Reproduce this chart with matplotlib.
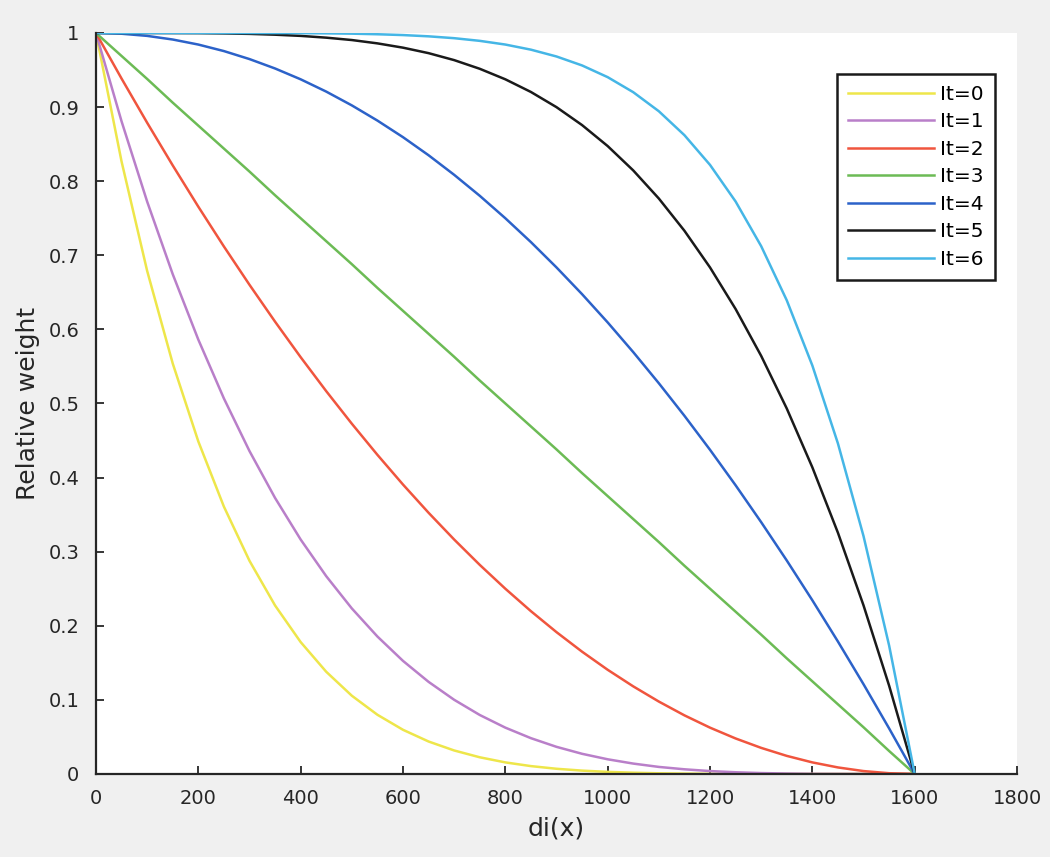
import numpy as np
import matplotlib
matplotlib.use('Agg')
from matplotlib import pyplot as plt

# distance values (x axis), one reading every 50 units
di = list(range(0, 1601, 50))

# relative weight readings for each iteration
it0 = [1, .8266, .6790, .5540, .4488, .3608, .2877, .2274, .1780, .1379, .1056, .0799, .0596,
       .0438, .0317, .0225, .0156, .0106, .0070, .0045, .0028, .0017, .0009, .0005, .0002,
       .0001, 0, 0, 0, 0, 0, 0, 0]
it1 = [1, .8808, .7725, .6745, .5862, .5068, .4358, .3725, .3164, .2669, .2234, .1855, .1526,
       .1243, .1001, .0796, .0625, .0483, .0366, .0272, .0198, .0140, .0095, .0063, .0039,
       .0023, .0012, .0006, .0002, .0001, 0, 0, 0]
it2 = [1, .9385, .8789, .8213, .7656, .7119, .6602, .6104, .5625, .5166, .4727, .4307, .3906,
       .3525, .3164, .2822, .25, .2197, .1914, .1650, .1406, .1182, .0977, .0791, .0625,
       .0479, .0352, .0244, .0156, .0088, .0039, .0010, 0]
it3 = [1, .969, .938, .906, .875, .844, .813, .781, .750, .719, .688, .656, .625, .594, .563,
       .531, .500, .469, .438, .406, .375, .344, .313, .281, .250, .219, .188, .156, .125,
       .094, .063, .031, 0]
it4 = [1, .9990, .9961, .9912, .9844, .9756, .9648, .9521, .9375, .9209, .9023, .8818, .8594,
       .8350, .8086, .7803, .75, .7178, .6836, .6475, .6094, .5693, .5273, .4834, .4375,
       .3896, .3398, .2881, .2344, .1787, .1211, .0615, 0]
it5 = [1, 1, 1, .9999, .9998, .9994, .9988, .9977, .9961, .9937, .9905, .9860, .9802, .9728,
       .9634, .9517, .9375, .9204, .8999, .8757, .8474, .8145, .7766, .7331, .6836, .6275,
       .5642, .4932, .4138, .3255, .2275, .1192, 0]
it6 = [1, 1, 1, 1, 1, 1, 1, .9999, .9998, .9995, .9991, .9983, .9972, .9955, .9930, .9894,
       .9844, .9775, .9683, .9562, .9404, .9201, .8944, .8621, .8220, .7726, .7123, .6392,
       .5512, .4460, .3210, .1734, 0]

series = [it0, it1, it2, it3, it4, it5, it6]
labels = ['It=0', 'It=1', 'It=2', 'It=3', 'It=4', 'It=5', 'It=6']
colors = ['#eee64a', '#b97fc9', '#f0553e', '#6cbb55', '#2c62c9', '#1a1a1a', '#45b6e6']

xticks = [0, 200, 400, 600, 800, 1000, 1200, 1400, 1600, 1800]
yticks = [0, 0.1, 0.2, 0.3, 0.4, 0.5, 0.6, 0.7, 0.8, 0.9, 1]
yticklabels = ['0', '0.1', '0.2', '0.3', '0.4', '0.5', '0.6', '0.7', '0.8', '0.9', '1']

fig = plt.figure(figsize=(10.5, 8.57), dpi=100, facecolor='#f0f0f0')
ax = fig.add_axes([0.0914, 0.0969, 0.8772, 0.8646])
ax.set_facecolor('white')

for y, lab, c in zip(series, labels, colors):
    ax.plot(di, y, color=c, lw=1.8, label=lab)

ax.set_xlim(0, 1800)
ax.set_ylim(0, 1)
ax.set_xticks(xticks)
ax.set_yticks(yticks)
ax.set_yticklabels(yticklabels)
ax.tick_params(direction='in', length=6, width=1.3, labelsize=14, colors='#262626')
ax.tick_params(axis='y', pad=12)
ax.tick_params(axis='x', pad=11)

for s in ['top', 'right']:
    ax.spines[s].set_visible(False)
for s in ['left', 'bottom']:
    ax.spines[s].set_linewidth(1.6)
    ax.spines[s].set_color('#262626')

ax.set_xlabel('di(x)', fontsize=18, color='#262626', labelpad=6)
ax.set_ylabel('Relative weight', fontsize=18, color='#262626', labelpad=6)

leg = ax.legend(loc='upper right', bbox_to_anchor=(0.976, 0.945), borderaxespad=0,
                fontsize=14.5, handlelength=4.3, labelspacing=0.42, handletextpad=0.3,
                borderpad=0.55, fancybox=False, framealpha=1)
leg.get_frame().set_edgecolor('#1a1a1a')
leg.get_frame().set_linewidth(1.8)

plt.savefig('out.png', dpi=100, facecolor=fig.get_facecolor())
